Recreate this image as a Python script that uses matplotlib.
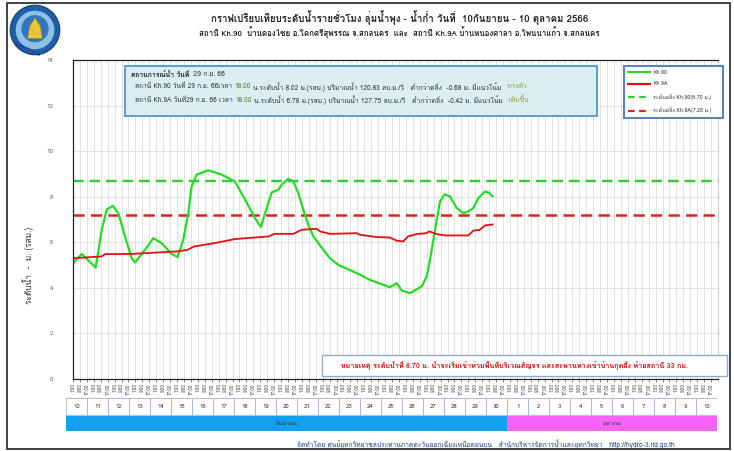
import numpy as np
import matplotlib
matplotlib.use('Agg')
import matplotlib.pyplot as plt
from matplotlib import font_manager
from matplotlib.ft2font import FT2Font
from matplotlib.patches import Rectangle, Circle, Polygon
from matplotlib.lines import Line2D

# ---- data (days counted from 10 Sep 2566, level in m. MSL) ----
kh90_day = [0.01, 0.42, 1.09, 1.38, 1.62, 1.91, 2.18, 2.50, 2.82, 2.98,
            3.46, 3.86, 4.26, 4.74, 5.03, 5.30, 5.54, 5.70, 5.94, 6.50,
            7.15, 7.46, 7.78, 8.27, 8.75, 9.03, 9.23, 9.55, 9.87, 10.03,
            10.35, 10.59, 10.83, 11.07, 11.31, 11.55, 12.03, 12.35, 12.75, 13.63,
            14.27, 15.23, 15.56, 15.80, 16.19, 16.76, 17.00, 17.16, 17.48, 17.64,
            17.85, 18.12, 18.44, 18.76, 19.00, 19.24, 19.48, 19.80, 19.96, 20.17]
kh90_level = [5.08, 5.49, 4.89, 6.55, 7.43, 7.60, 7.28, 6.26, 5.30, 5.11,
              5.67, 6.18, 5.96, 5.49, 5.35, 6.11, 7.28, 8.45, 8.97, 9.16,
              8.97, 8.82, 8.67, 7.87, 7.06, 6.67, 7.28, 8.19, 8.31, 8.53,
              8.79, 8.67, 8.16, 7.43, 6.77, 6.26, 5.67, 5.30, 5.01, 4.65,
              4.35, 4.03, 4.21, 3.88, 3.77, 4.06, 4.50, 5.23, 6.99, 7.79,
              8.10, 8.01, 7.50, 7.28, 7.35, 7.50, 7.94, 8.23, 8.19, 8.02]

kh9a_day = [0.01, 1.38, 1.54, 2.82, 5.03, 5.51, 5.83, 6.79, 7.78, 9.42,
            9.67, 10.59, 10.99, 11.71, 11.87, 12.35, 13.63, 13.79, 14.59, 15.23,
            15.56, 15.87, 16.11, 16.51, 16.99, 17.12, 17.48, 17.88, 19.00, 19.24,
            19.56, 19.80, 20.17]
kh9a_level = [5.30, 5.38, 5.48, 5.49, 5.60, 5.67, 5.82, 5.96, 6.14, 6.26,
              6.37, 6.37, 6.55, 6.59, 6.48, 6.37, 6.40, 6.33, 6.23, 6.21,
              6.07, 6.04, 6.26, 6.36, 6.40, 6.48, 6.36, 6.30, 6.30, 6.51,
              6.55, 6.74, 6.78]

bank_kh90 = 8.70
bank_kh9a = 7.20

hour_labels = ['1:00', '9:00', '17:00']
day_labels = [str(d) for d in range(10, 31)] + [str(d) for d in range(1, 11)]
month_names = ['กันยายน', 'ตุลาคม']
month_days = [21, 10]

title = 'กราฟเปรียบเทียบระดับน้ำรายชั่วโมง ลุ่มน้ำพุง - น้ำก่ำ วันที่  10กันยายน - 10 ตุลาคม 2566'
subtitle = ('สถานี Kh.90  บ้านดองไชย อ.โคกศรีสุพรรณ จ.สกลนคร  และ  '
            'สถานี Kh.9A บ้านหนองศาลา อ.โพนนาแก้ว จ.สกลนคร')
note = ('หมายเหตุ ระดับน้ำที่ 8.70 ม. น้ำจะเริ่มเข้าท่วมพื้นที่บริเวณสัญจร '
        'และสะพานทางเข้าบ้านกุดผึ้ง ท้ายสถานี 33 กม.')
footer = ('จัดทำโดย ศูนย์อุทกวิทยาชลประทานภาคตะวันออกเฉียงเหนือตอนบน   '
          'สำนักบริหารจัดการน้ำและอุทกวิทยา   http://hydro-3.rid.go.th')


def thai_family():
    # first installed family that has Thai glyphs
    for fe in font_manager.fontManager.ttflist:
        try:
            if 0x0E01 in FT2Font(fe.fname).get_charmap():
                return fe.name
        except Exception:
            pass
    return 'DejaVu Sans'


thai = thai_family()
plt.rcParams['font.family'] = [thai, 'DejaVu Sans']

W, H = 734, 451
fig = plt.figure(figsize=(W / 100, H / 100), dpi=100)
fig.patch.set_facecolor('white')


def fx(x):
    return x / W


def fy(y):
    return 1 - y / H


# outer frame
fig.add_artist(Rectangle((fx(7), fy(449)), fx(723), 446 / H, transform=fig.transFigure,
                         fill=False, ec='#333333', lw=1.3))

# titles
fig.text(fx(400), fy(18), title, ha='center', va='center', fontsize=7,
         fontweight='bold', color='#222222')
fig.text(fx(399), fy(33), subtitle, ha='center', va='center', fontsize=5.7,
         fontweight='bold', color='#222222')

# logo
lg = fig.add_axes([fx(9), fy(56), 52 / W, 52 / H])
lg.set_xlim(-1.05, 1.05)
lg.set_ylim(-1.05, 1.05)
lg.set_aspect('equal')
lg.axis('off')
lg.add_patch(Circle((0, 0), 1.0, fc='#1f5fa8', ec='#123e75', lw=0.8))
lg.add_patch(Circle((0, 0), 0.78, fc='#8fc0e8', ec='none'))
lg.add_patch(Circle((0, 0.05), 0.55, fc='#2f78c0', ec='none'))
lg.add_patch(Polygon([[-0.3, -0.35], [0.3, -0.35], [0.22, 0.15], [0, 0.5], [-0.22, 0.15]],
                     closed=True, fc='#e8c53a', ec='#9a7d10', lw=0.5))
lg.text(-0.35, -0.78, 'กรมชลประทาน', fontsize=3.2, color='#1f3c88', rotation=-25,
        ha='center', va='center', fontweight='bold')

# main chart
ax = fig.add_axes([fx(73), fy(379), 645 / W, 319 / H])
ax.set_xlim(0, 31)
ax.set_ylim(0, 14)
ticks = np.arange(31 * 3) / 3
ax.set_xticks(ticks)
ax.set_xticklabels(hour_labels * 31, rotation=90, fontsize=3.3, color='#444444')
ax.set_yticks(range(0, 15, 2))
ax.tick_params(axis='y', labelsize=4.5, labelcolor='#666666', length=0, pad=14)
ax.tick_params(axis='x', length=2, width=0.5, pad=1, color='#555555')
ax.grid(True, color='#dddddd', lw=0.6)
ax.set_axisbelow(True)
for side in ['left', 'bottom', 'top']:
    ax.spines[side].set_color('#222222')
    ax.spines[side].set_linewidth(0.9)
ax.spines['right'].set_color('#cccccc')

ax.axhline(bank_kh90, color='#33cc33', lw=1.7, ls=(0, (4.5, 2.5)))
ax.axhline(bank_kh9a, color='#dd2222', lw=1.8, ls=(0, (4.5, 2.5)))
ax.plot(kh90_day, kh90_level, color='#22dd22', lw=1.6, solid_joinstyle='round')
ax.plot(kh9a_day, kh9a_level, color='#dd1111', lw=1.3)

fig.text(fx(28), fy(265), 'ระดับน้ำ  -  ม. (รสม.)', rotation=90, ha='center', va='center',
         fontsize=6, color='#333333')

# legend
handles = [Line2D([], [], color='#22dd22', lw=1.6),
           Line2D([], [], color='#dd1111', lw=1.6),
           Line2D([], [], color='#33cc33', lw=1.6, ls=(0, (3, 2))),
           Line2D([], [], color='#dd2222', lw=1.6, ls=(0, (3, 2)))]
labels = ['Kh.90', 'Kh.9A', 'ระดับตลิ่ง Kh.90(8.70 ม.)', 'ระดับตลิ่ง Kh.9A(7.20 ม.)']
leg = ax.legend(handles, labels, loc='upper left',
                bbox_to_anchor=(fx(621), fy(117), 105 / W, 54 / H), mode='expand',
                bbox_transform=fig.transFigure, fontsize=3.8, frameon=True,
                fancybox=False, edgecolor='#4f81bd', framealpha=1,
                handlelength=4.2, labelspacing=1.25, borderpad=0.8, handletextpad=0.6)
leg.get_frame().set_linewidth(1.4)
for t in leg.get_texts():
    t.set_color('#333333')

# situation box
fig.add_artist(Rectangle((fx(125), fy(116)), 472 / W, 50 / H, transform=fig.transFigure,
                         fc='#dbeef4', ec='#5b9bd5', lw=1.4))

renderer = fig.canvas.get_renderer()


def write_runs(x, y, runs, size):
    for s, color, weight in runs:
        t = fig.text(x, y, s, fontsize=size, color=color, fontweight=weight, va='center')
        bb = t.get_window_extent(renderer)
        x = bb.x1 / W + 2.2 / W


write_runs(fx(131), fy(74), [('สถานการณ์น้ำ วันที่', '#222222', 'bold'),
                             (' 29 ก.ย. 66', '#333333', 'normal')], 4.9)
write_runs(fx(135), fy(87), [('สถานี Kh.90 วันที่ 29 ก.ย. 66เวลา', '#333333', 'normal'),
                             ('18.00', '#4d7a1a', 'normal'),
                             ('น.ระดับน้ำ 8.02 ม.(รสม.) ปริมาณน้ำ 120.83 ลบ.ม./วิ   ต่ำกว่าตลิ่ง  -0.68 ม. มีแนวโน้ม',
                              '#333333', 'normal'),
                             ('  ทรงตัว', '#9aa030', 'normal')], 4.75)
write_runs(fx(135), fy(100), [('สถานี Kh.9A วันที่29 ก.ย. 66 เวลา', '#333333', 'normal'),
                              ('18.00', '#4d7a1a', 'normal'),
                              ('น.ระดับน้ำ 6.78 ม.(รสม.) ปริมาณน้ำ 127.75 ลบ.ม./วิ   ต่ำกว่าตลิ่ง  -0.42 ม. มีแนวโน้ม',
                               '#333333', 'normal'),
                              ('  เพิ่มขึ้น', '#9aa030', 'normal')], 4.75)

# note box
fig.add_artist(Rectangle((fx(322), fy(376)), 405 / W, 21 / H, transform=fig.transFigure,
                         fc='white', ec='#8eaac8', lw=1.0))
fig.text(fx(515), fy(365.5), note, ha='center', va='center', fontsize=5.2,
         fontweight='bold', color='#cc1111')

# day / month table
tab = fig.add_axes([fx(66), fy(431), 651 / W, 33 / H])
tab.set_xlim(0, 31)
tab.set_ylim(0, 33)
tab.axis('off')
for i, d in enumerate(day_labels):
    tab.add_patch(Rectangle((i, 16), 1, 17, fc='white', ec='#9db3d6', lw=0.6))
    tab.text(i + 0.5, 24.5, d, ha='center', va='center', fontsize=4.3, color='#333333')
start = 0
for name, n, c in zip(month_names, month_days, ['#14a0f0', '#f562f5']):
    tab.add_patch(Rectangle((start, 0), n, 15.5, fc=c, ec='none'))
    tab.text(start + n / 2, 7.7, name, ha='center', va='center', fontsize=4.3, color='#333333')
    start += n

fig.text(fx(486), fy(444), footer, ha='center', va='center', fontsize=4.8, color='#1f3c88')

fig.savefig('out.png', dpi=100)
